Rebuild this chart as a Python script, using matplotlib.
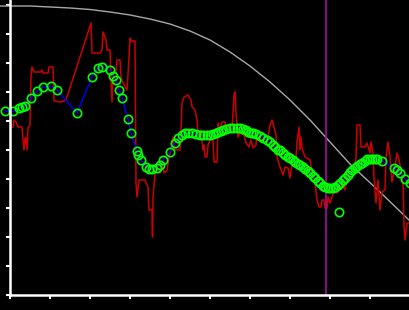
import numpy as np
import matplotlib
matplotlib.use("Agg")
import matplotlib.pyplot as plt

# DATOS ---------------------------------------------------------------------
# senal ruidosa (rojo)
red_x = [0, 0.7, 3, 4, 6, 8, 12, 13, 14, 15, 16, 17, 18, 20, 21, 22, 24, 31, 32, 33,
         38, 39, 43, 44, 51, 56, 81, 82, 90, 92, 93, 96, 97, 100, 101, 102, 103, 106, 107, 110,
         111, 113, 117, 118, 120, 121, 125, 126, 127, 129, 135, 136, 138, 139, 142, 142.5, 143, 145, 147, 150,
         152, 154, 157, 159, 161, 163, 165, 170, 171, 172, 174, 178, 181, 182, 185, 187, 188, 191, 193, 194,
         195, 197, 198, 200, 203, 204, 207, 208, 210, 212, 215, 216, 218, 219, 222, 224, 225, 226, 228, 230,
         234, 236, 239, 241, 243, 246, 247, 250, 253, 257, 258, 260, 262, 264, 266, 267, 270, 273, 275, 278,
         280, 282, 286, 287, 289, 290, 291, 292, 295, 300, 302, 305, 307, 309, 311, 312, 314, 315, 317, 318,
         320, 322, 324, 327, 330, 332, 335, 337, 340, 344, 346, 347, 350, 351, 355, 357, 360, 361, 363, 364,
         366, 368, 370, 372, 375, 376, 378, 380, 382, 385, 387, 389, 391, 393, 394, 395, 397, 400]
red_y = [199, 168, 168, 175, 173, 168, 168, 155, 145, 157, 157, 145, 167, 170, 218, 228, 223, 223, 225, 222,
         222, 228, 228, 194, 193, 195, 272, 242, 242, 245, 263, 255, 245, 245, 215, 193, 222, 222, 235, 235,
         218, 212, 205, 220, 257, 254, 254, 112, 98, 115, 115, 112, 108, 85, 85, 58, 98, 122, 128, 122,
         132, 122, 125, 138, 145, 158, 145, 145, 165, 192, 198, 200, 195, 188, 185, 175, 162, 165, 145, 150,
         138, 138, 150, 155, 155, 133, 133, 172, 165, 173, 173, 165, 165, 170, 165, 200, 203, 182, 158, 162,
         160, 152, 148, 155, 147, 150, 160, 157, 153, 153, 157, 170, 175, 168, 160, 138, 128, 120, 128, 127,
         117, 132, 138, 153, 168, 145, 158, 147, 138, 135, 122, 112, 95, 88, 88, 95, 95, 87, 87, 98,
         92, 98, 105, 102, 105, 112, 105, 115, 123, 125, 137, 170, 170, 148, 148, 152, 142, 153, 142, 117,
         92, 115, 85, 103, 105, 137, 153, 138, 113, 128, 142, 135, 125, 112, 70, 55, 72, 72]

# senal filtrada (azul + circulos verdes)
fil_x = [-5, 3, 9, 12, 15, 21, 27, 33, 41, 47, 67, 82, 88, 92, 100, 103, 106, 109, 112, 118,
         121, 127, 128, 131, 136, 139, 142, 147, 150, 153, 160, 165, 168, 172, 175, 178, 182, 186, 190, 193,
         197, 200, 203, 206, 208, 211, 213, 216, 220, 223, 227, 230, 233, 236, 238, 241, 243, 246, 250, 253,
         257, 260, 263, 265, 268, 270, 273, 275, 278, 280, 283, 285, 288, 290, 293, 295, 298, 300, 303, 305,
         308, 310, 313, 315, 318, 320, 323, 325, 328, 330, 333, 335, 338, 340, 342, 345, 347, 350, 352, 355,
         357, 360, 362, 365, 367, 372, 384, 387, 390, 395, 400]
fil_y = [184, 184, 187, 188, 189, 197, 204, 208, 209, 205, 182, 218, 227, 228, 225, 219, 215, 205, 197, 176,
         162, 144, 140, 135, 128, 126, 126, 127, 130, 135, 143, 152, 157, 160, 162, 162, 162, 161, 160, 160,
         160, 160, 161, 162, 163, 164, 165, 166, 167, 167, 167, 167, 166, 165, 163, 162, 162, 161, 159, 157,
         155, 153, 150, 148, 145, 145, 142, 140, 138, 137, 135, 133, 131, 130, 128, 126, 124, 122, 119, 117,
         114, 112, 109, 108, 107, 107, 107, 108, 110, 112, 115, 117, 120, 123, 125, 127, 129, 131, 132, 134,
         136, 136, 136, 136, 136, 134, 127, 125, 122, 116, 112]

# punto aislado
extra_x = [329]
extra_y = [83]

# curva gris
env_x = [-10, 0, 20, 40, 60, 80, 100, 120, 140, 160, 180, 200, 220, 240, 260, 280, 300, 320, 340, 370, 400]
env_y = [289, 289, 289, 288, 287, 285.5, 283, 280, 276, 271, 264, 255, 243, 229, 213, 195, 175, 153, 131, 103, 74]

# marcador vertical
x_mark = 316

# GRAFICO -------------------------------------------------------------------
fig = plt.figure(figsize=(4.1, 3.1), dpi=100, facecolor="black")
ax = fig.add_axes([10 / 410, 15 / 310, 400 / 410, 295 / 310])
ax.set_facecolor("black")

ax.plot(env_x, env_y, color="#a8a8a8", lw=1.0, clip_on=False)
ax.plot(red_x, red_y, color="#cc0000", lw=1.1)
ax.axvline(x_mark, color="#a010a0", lw=1.2)
ax.plot(fil_x, fil_y, color="#0000ff", lw=1.0, clip_on=False)
ax.plot(fil_x, fil_y, "o", ms=6, mfc="none", mec="#00ff00", mew=1.2, clip_on=False)
ax.plot(extra_x, extra_y, "o", ms=6, mfc="none", mec="#00ff00", mew=1.2)

ax.set_xlim(0, 400)
ax.set_ylim(0, 295)
ax.set_xticks(np.arange(0, 400, 40))
ax.set_yticks(np.arange(0, 295, 29))
ax.set_xticklabels([])
ax.set_yticklabels([])
ax.tick_params(colors="white", length=3, width=1.5, direction="out")

for s in ["top", "right"]:
    ax.spines[s].set_visible(False)
for s in ["left", "bottom"]:
    ax.spines[s].set_color("white")
    ax.spines[s].set_linewidth(1.8)

fig.savefig("out.png", dpi=100, facecolor="black")
